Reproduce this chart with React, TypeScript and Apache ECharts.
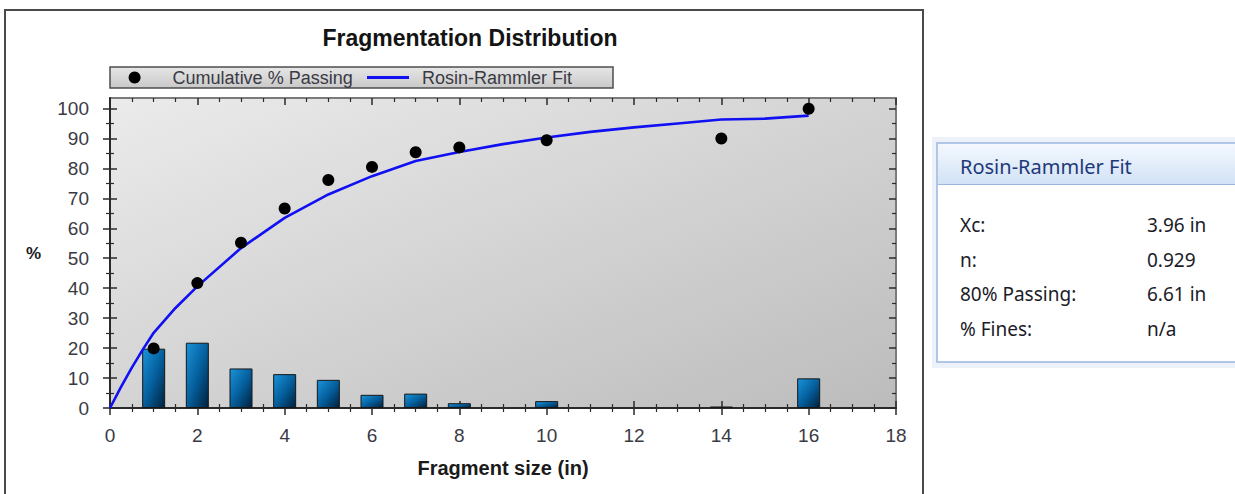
import { useEffect, useRef } from "react";
import * as echarts from "echarts";

// Screen sizes (in) and the share of material retained at each size (%)
const fragmentSizes = [1, 2, 3, 4, 5, 6, 7, 8, 10, 14, 16];
const retainedPercent = [19.8, 21.8, 13.2, 11.3, 9.4, 4.4, 4.8, 1.6, 2.3, 0.5, 9.9];
const cumulativePassing = [19.9, 41.7, 55.2, 66.6, 76.1, 80.5, 85.4, 87.0, 89.4, 90.0, 99.9];

// Rosin-Rammler fit curve samples
const fitSizes = [0, 0.25, 0.5, 0.75, 1, 1.5, 2, 3, 4, 5, 6, 7, 8, 9, 10, 11, 12, 13, 14, 15, 16];
const fitPassing = [0, 7.0, 13.5, 19.5, 25.1, 33.4, 40.6, 53.4, 63.5, 71.3, 77.4, 82.5, 85.5, 88.1, 90.3, 92.2, 93.7, 95.0, 96.3, 96.6, 97.6];

// Y tick values (labelled)
const yTickValues = [0, 10, 20, 30, 40, 50, 60, 70, 80, 90, 100];

// Fit summary panel rows
const fitLabels = ["Xc:", "n:", "80% Passing:", "% Fines:"];
const fitValues = ["3.96 in", "0.929", "6.61 in", "n/a"];

const SANS = "'Liberation Sans', Arial, Helvetica, sans-serif";
const UI = "'Noto Sans', 'Open Sans', sans-serif";
const INK = "#2a2a2a";
const LABEL = "#3a3a44";

const X_MIN = 0;
const X_MAX = 18;
const Y_MIN = 0;
const Y_MAX = 103.5;

function xAxisFor(position: "bottom" | "top", withLabels: boolean, inside: boolean) {
  return {
    type: "value",
    position,
    min: X_MIN,
    max: X_MAX,
    interval: 2,
    splitLine: { show: false },
    axisLine: {
      show: withLabels,
      onZero: false,
      lineStyle: { color: INK, width: 2 },
    },
    axisTick: { show: true, inside, length: 7, lineStyle: { color: INK, width: 1.5 } },
    minorTick: { show: true, splitNumber: 4, length: 4, lineStyle: { color: INK, width: 1.2 } },
    axisLabel: {
      show: withLabels,
      fontSize: 19,
      fontFamily: SANS,
      color: LABEL,
      margin: 18,
    },
    ...(withLabels
      ? {
          name: "Fragment size (in)",
          nameLocation: "middle",
          nameGap: 50,
          nameTextStyle: { fontSize: 20, fontWeight: "bold", fontFamily: SANS, color: "#1a1a1a" },
        }
      : {}),
  };
}

function yAxisFor(position: "left" | "right", withLabels: boolean, inside: boolean) {
  return {
    type: "value",
    position,
    min: Y_MIN,
    max: Y_MAX,
    interval: 10,
    splitLine: { show: false },
    axisLine: {
      show: withLabels,
      onZero: false,
      lineStyle: { color: INK, width: 2 },
    },
    axisTick: {
      show: true,
      inside,
      length: 7,
      customValues: yTickValues,
      lineStyle: { color: INK, width: 1.5 },
    },
    minorTick: { show: true, splitNumber: 2, length: 4, lineStyle: { color: INK, width: 1.2 } },
    axisLabel: {
      show: withLabels,
      customValues: yTickValues,
      fontSize: 19,
      fontFamily: SANS,
      color: LABEL,
      margin: 21,
    },
    ...(withLabels
      ? {
          name: "%",
          nameLocation: "middle",
          nameRotate: 0,
          nameGap: 69,
          nameTextStyle: { fontSize: 17, fontWeight: "bold", fontFamily: SANS, color: "#1a1a1a" },
        }
      : {}),
  };
}

const barFill = new echarts.graphic.LinearGradient(0, 0, 1, 1, [
  { offset: 0, color: "#1a93da" },
  { offset: 0.5, color: "#05609e" },
  { offset: 1, color: "#00203d" },
]);

const plotFill = new echarts.graphic.LinearGradient(0, 0, 1, 1, [
  { offset: 0, color: "#ebebeb" },
  { offset: 1, color: "#bcbcbc" },
]);

const legendFill = new echarts.graphic.LinearGradient(0, 0, 0, 1, [
  { offset: 0, color: "#e6e6e6" },
  { offset: 1, color: "#c9c9c9" },
]);

const headerFill = new echarts.graphic.LinearGradient(0, 0, 0, 1, [
  { offset: 0, color: "#f4f8fe" },
  { offset: 1, color: "#d2e2f6" },
]);

function buildPanel() {
  const rows: any[] = [];
  fitLabels.forEach((label, i) => {
    const y = 225 + i * 34.5;
    rows.push({
      type: "text",
      x: 960,
      y,
      style: { text: label, font: `19px ${UI}`, fill: "#1b1b28", verticalAlign: "middle" },
    });
    rows.push({
      type: "text",
      x: 1147,
      y,
      style: { text: fitValues[i], font: `19px ${UI}`, fill: "#1b1b28", verticalAlign: "middle" },
    });
  });
  return [
    { type: "rect", shape: { x: 932, y: 137, width: 320, height: 231 }, style: { fill: "#edf2fa" } },
    {
      type: "rect",
      shape: { x: 937, y: 143, width: 310, height: 219 },
      style: { fill: "#ffffff", stroke: "#9bb6de", lineWidth: 1.5 },
    },
    { type: "rect", shape: { x: 938, y: 144, width: 300, height: 40 }, style: { fill: headerFill } },
    {
      type: "line",
      shape: { x1: 938, y1: 184.5, x2: 1240, y2: 184.5 },
      style: { stroke: "#9bb6de", lineWidth: 1.2 },
    },
    {
      type: "text",
      x: 960,
      y: 166,
      style: { text: "Rosin-Rammler Fit", font: `20px ${UI}`, fill: "#1e3978", verticalAlign: "middle" },
    },
    ...rows,
  ];
}

const option: any = {
  animation: false,
  backgroundColor: "#ffffff",
  title: {
    text: "Fragmentation Distribution",
    left: 465,
    top: 21,
    textAlign: "center",
    textStyle: { fontSize: 23, fontWeight: "bold", fontFamily: SANS, color: "#141414" },
  },
  legend: [
    {
      data: [{ name: "Cumulative % Passing", icon: "circle" }],
      left: 128.6,
      top: 67.5,
      padding: 0,
      itemWidth: 12,
      itemHeight: 12,
      selectedMode: false,
      textStyle: { fontSize: 18, lineHeight: 20, fontFamily: SANS, color: LABEL, padding: [0, 0, 0, 27] },
    },
    {
      data: [{ name: "Rosin-Rammler Fit", icon: "rect" }],
      left: 367,
      top: 67.5,
      padding: 0,
      itemWidth: 42,
      itemHeight: 3,
      selectedMode: false,
      itemStyle: { color: "#1010f2", borderWidth: 0 },
      textStyle: { fontSize: 18, lineHeight: 20, fontFamily: SANS, color: LABEL, padding: [0, 0, 0, 8] },
    },
  ],
  grid: {
    left: 110,
    top: 98,
    width: 786,
    height: 310,
    show: true,
    backgroundColor: plotFill,
    borderColor: "#7b7b7b",
    borderWidth: 2,
    outerBoundsMode: "none",
  },
  xAxis: [
    xAxisFor("bottom", true, false),
    xAxisFor("bottom", false, true),
    xAxisFor("top", false, true),
  ],
  yAxis: [
    yAxisFor("left", true, false),
    yAxisFor("left", false, true),
    yAxisFor("right", false, true),
  ],
  graphic: [
    {
      type: "rect",
      z: -10,
      shape: { x: 5, y: 10, width: 918, height: 500 },
      style: { fill: "none", stroke: "#4a4a4a", lineWidth: 2 },
    },
    {
      type: "rect",
      z: -5,
      shape: { x: 110, y: 67, width: 503, height: 21 },
      style: { fill: legendFill, stroke: "#4d4d4d", lineWidth: 1.5 },
    },
    ...buildPanel(),
  ],
  series: [
    {
      name: "Retained",
      type: "bar",
      xAxisIndex: 0,
      yAxisIndex: 0,
      barWidth: 23,
      data: fragmentSizes.map((s, i) => [s, retainedPercent[i]]),
      itemStyle: { color: barFill, borderColor: "#161616", borderWidth: 1 },
      z: 2,
    },
    {
      name: "Rosin-Rammler Fit",
      type: "line",
      xAxisIndex: 0,
      yAxisIndex: 0,
      symbol: "none",
      data: fitSizes.map((s, i) => [s, fitPassing[i]]),
      lineStyle: { color: "#1010f2", width: 2.6 },
      itemStyle: { color: "#1010f2" },
      z: 3,
    },
    {
      name: "Cumulative % Passing",
      type: "scatter",
      xAxisIndex: 0,
      yAxisIndex: 0,
      symbol: "circle",
      symbolSize: 12,
      data: fragmentSizes.map((s, i) => [s, cumulativePassing[i]]),
      itemStyle: { color: "#000000", opacity: 1 },
      z: 4,
    },
  ],
};

export default function App() {
  const ref = useRef<HTMLDivElement>(null);
  useEffect(() => {
    if (!ref.current) return;
    const chart = echarts.init(ref.current, null, { renderer: "svg" });
    chart.setOption(option);
    return () => chart.dispose();
  }, []);
  return (
    <div
      ref={ref}
      style={{ position: "absolute", left: 0, top: 0, width: 1235, height: 494, background: "#fff" }}
    />
  );
}
